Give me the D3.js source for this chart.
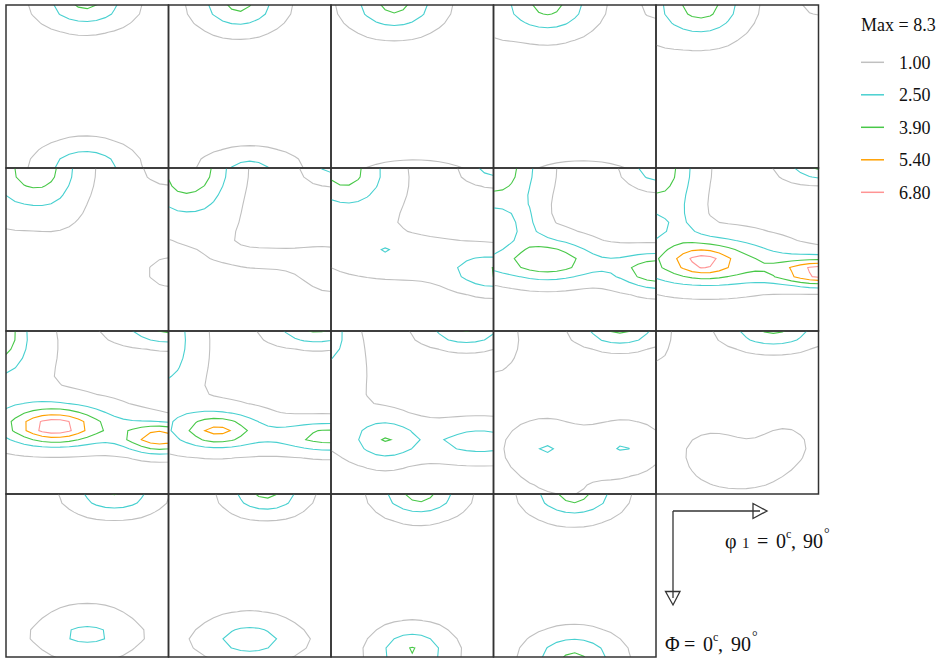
<!DOCTYPE html>
<html>
<head>
<meta charset="utf-8">
<script src="https://cdn.jsdelivr.net/npm/d3@7"></script>
<style>
  body { margin: 0; background: #fff; }
  svg { display: block; }
</style>
</head>
<body>
<div id="chart"></div>
<script>

// contour levels and colours (legend)
const levels = [1.00, 2.50, 3.90, 5.40, 6.80];
const levelColors = ["#c0c0c0", "#48d0d0", "#48c848", "#ffa000", "#ff9494"];
const maxDensity = 8.3;

// phi2 of each section, left to right, top to bottom
const phi2Sections = [0, 5, 10, 15, 20, 25, 30, 35, 40, 45, 50, 55, 60, 65, 70, 75, 80, 85, 90];

// sampling grid of the sections (degrees)
const gridPhi1 = d3.range(-5, 96, 5);
const gridPhi = d3.range(-5, 96, 5);
const background = 0.45;

// texture components read off each section:
// [phi1, Phi, height, spread along phi1, spread along Phi]
const peaks0  = [[44, 0, 3.7, 16, 8.4], [44, 90, 3.45, 16.5, 9]];
const peaks5  = [[39, 0, 3.8, 15, 9.5], [45, 90, 2.5, 17, 6.8]];
const peaks10 = [[35, 0, 3.85, 16.3, 10], [46, 90, 0.85, 29, 5]];
const peaks15 = [[30, 0, 3.9, 16.5, 11], [90, 0, 0.85, 8, 8], [49, 90, 0.8, 28, 5], [0, 10, 0.4, 10, 15]];
const peaks20 = [[25, 0, 4.1, 16, 12.5], [90, 0, 0.75, 11, 7], [0, 10, 0.4, 10, 15]];
const peaks25 = [[19, 0, 4.1, 15, 15], [0, 8, 1.0, 10, 18], [28, 25, 0.5, 12, 10], [90, 57.5, 0.75, 14, 10], [90, 0, 0.8, 16, 11]];
const peaks30 = [[14, 0, 4.2, 15, 16], [0, 12, 1.0, 10, 18], [25, 30, 0.7, 12, 10], [55, 50, 0.75, 30, 7], [90, 58, 1.0, 12, 9], [90, 0, 2.4, 10, 6]];
const peaks35 = [[6, 0, 3.4, 16, 13], [15, 15, 1.0, 20, 20], [45, 50, 1.2, 35, 9], [30, 45, 1.0, 6, 4], [90, 58, 3.3, 15, 7], [90, 0, 2.7, 11, 6]];
const peaks40 = [[0, 0, 4.6, 17, 17], [18, 30, 1.6, 7, 9], [35, 53, 2.0, 40, 7], [0, 53, 0.6, 8, 6], [29, 49, 2.9, 16, 9], [92, 57.5, 4.2, 15, 7], [92, 0, 3.3, 12, 7]];
const peaks45 = [[0, 0, 4.5, 15, 19], [15, 30, 1.0, 7, 9], [26, 51.5, 2.3, 9, 4.5], [26, 51, 4.2, 28, 10], [50, 55, 1.0, 40, 8], [93, 57.5, 6.8, 17, 5], [92, 0, 3.7, 14, 5]];
const peaks50 = [[-3, 0, 3.2, 9, 14], [0, 10, 1.5, 20, 22], [26.6, 53.5, 3.0, 13, 5], [27, 51, 3.8, 24, 9], [50, 54, 1.0, 40, 7], [86, 59.5, 5.6, 14, 5.5], [92, 0, 3.7, 20, 5.5]];
const peaks55 = [[-4, 0, 2.5, 13, 22], [0, 20, 0.9, 15, 25], [27, 55.5, 1.4, 9, 4], [27, 54, 3.6, 18, 8], [50, 57, 0.6, 40, 7], [90, 58.5, 3.8, 21, 6], [82, 0, 3.6, 17, 5.5]];
const peaks60 = [[-3, 0, 2.8, 8, 12], [0, 25, 1.0, 18, 25], [30, 60, 2.9, 12.3, 8.7], [84, 61, 2.4, 22, 7.5], [50, 60, 0.5, 40, 8], [75, 0, 3.5, 16, 6]];
const peaks65 = [[0, 5, 0.9, 14, 18], [29, 65, 2.1, 14, 10], [72, 64, 2.1, 14, 9], [45, 90, 0.5, 25, 10], [70, 0, 3.7, 15, 6]];
const peaks70 = [[0, 0, 0.85, 9, 18], [30, 66, 0.8, 14, 10], [72, 63, 0.85, 11, 9], [52, 70, 0.4, 14, 9], [48, 82, 0.55, 22, 8], [65, 0, 3.7, 17, 6.5]];
const peaks75 = [[60, 0, 3.5, 16, 7.5], [45, 77, 1.9, 18, 10.5], [45, 78, 0.6, 20, 4]];
const peaks80 = [[54, 0, 3.8, 14, 7.5], [45, 80, 2.4, 17, 9], [45, 81, 0.5, 25, 5]];
const peaks85 = [[49, 0, 4.0, 15, 8.5], [45, 87, 3.6, 14, 9]];
const peaks90 = [[44.5, 0, 4.0, 16, 9], [44.5, 90, 3.7, 16, 9]];

const sectionPeaks = [peaks0, peaks5, peaks10, peaks15, peaks20, peaks25, peaks30, peaks35, peaks40, peaks45,
                      peaks50, peaks55, peaks60, peaks65, peaks70, peaks75, peaks80, peaks85, peaks90];

const legendTitle = "Max = " + maxDensity;

// layout
const width = 942, height = 659;
const cols = 5;
const panelW = 162.5, panelH = 163;
const originX = 6, originY = 5;

const svg = d3.select("#chart").append("svg")
    .attr("width", width)
    .attr("height", height);

const x = d3.scaleLinear().domain([0, 90]).range([0, panelW]);
const y = d3.scaleLinear().domain([0, 90]).range([0, panelH]);

// grid index (cell centre at i + 0.5) -> degrees
const step = gridPhi1[1] - gridPhi1[0];
const gx = c => gridPhi1[0] + (c - 0.5) * step;
const gy = c => gridPhi[0] + (c - 0.5) * step;

const path = d3.geoPath(d3.geoTransform({
    point: function (px, py) { this.stream.point(x(gx(px)), y(gy(py))); }
}));

const contours = d3.contours()
    .size([gridPhi1.length, gridPhi.length])
    .thresholds(levels);

function density(peaks) {
    const values = [];
    gridPhi.forEach(P => {
        gridPhi1.forEach(p1 => {
            let v = background;
            peaks.forEach(([c1, c2, a, s1, s2]) => {
                const u = (p1 - c1) / s1, w = (P - c2) / s2;
                v += a * Math.exp(-0.5 * (u * u + w * w));
            });
            values.push(v);
        });
    });
    return values;
}

const defs = svg.append("defs");

phi2Sections.forEach((phi2, k) => {
    const col = k % cols, row = Math.floor(k / cols);
    const g = svg.append("g")
        .attr("transform", `translate(${originX + col * panelW},${originY + row * panelH})`);

    defs.append("clipPath").attr("id", "clip" + k)
        .append("rect").attr("width", panelW).attr("height", panelH);

    const lines = g.append("g").attr("clip-path", `url(#clip${k})`);
    lines.selectAll("path")
        .data(contours(density(sectionPeaks[k])))
        .join("path")
        .attr("d", path)
        .attr("fill", "none")
        .attr("stroke", (d, i) => levelColors[i])
        .attr("stroke-width", 1.1);

    g.append("rect")
        .attr("width", panelW)
        .attr("height", panelH)
        .attr("fill", "none")
        .attr("stroke", "#333")
        .attr("stroke-width", 1.5);
});

// legend
const legend = svg.append("g").attr("font-family", "'Liberation Serif', 'Times New Roman', serif");
legend.append("text")
    .attr("x", 861).attr("y", 31)
    .attr("font-size", 18)
    .attr("fill", "#111")
    .text(legendTitle);

const legendY = d3.scaleLinear().domain([0, 1]).range([62.3, 94.8]);
levels.forEach((lv, i) => {
    legend.append("line")
        .attr("x1", 861).attr("x2", 884)
        .attr("y1", legendY(i)).attr("y2", legendY(i))
        .attr("stroke", levelColors[i])
        .attr("stroke-width", 1.5);
    legend.append("text")
        .attr("x", 899).attr("y", legendY(i) + 6.5)
        .attr("font-size", 18)
        .attr("fill", "#111")
        .text(lv.toFixed(2));
});

// axis directions
const axes = svg.append("g").attr("stroke", "#333").attr("stroke-width", 1.3).attr("fill", "none");
const ax0 = 673, ay0 = 511;
axes.append("path").attr("d", `M${ax0},${ay0}H760`);
axes.append("path").attr("d", `M753,503.5L767,${ay0}L753,518.5Z`);
axes.append("path").attr("d", `M${ax0},${ay0}V598`);
axes.append("path").attr("d", `M665.5,591.5L680,591.5L${ax0},605Z`);

const lab = svg.append("g")
    .attr("font-family", "'Liberation Serif', 'Times New Roman', serif")
    .attr("font-size", 20)
    .attr("fill", "#111");

// label pieces: [text, x, size, raised]
const phi1Label = [["\u03c6", 725, 20, false], ["1", 742, 15, false], ["=", 757, 20, false], ["0", 776, 20, false],
                   ["c", 786, 12, true], [",", 791, 20, false], ["90", 803, 20, false], ["\u00b0", 824, 14, true]];
const phiLabel  = [["\u03a6", 665, 20, false], ["=", 684, 20, false], ["0", 703, 20, false],
                   ["c", 713, 12, true], [",", 718, 20, false], ["90", 731, 20, false], ["\u00b0", 752, 14, true]];

[[phi1Label, 548], [phiLabel, 651]].forEach(([parts, base]) => {
    lab.selectAll(null)
        .data(parts)
        .join("text")
        .attr("x", d => d[1])
        .attr("y", d => d[3] ? base - 10 : base)
        .attr("font-size", d => d[2])
        .text(d => d[0]);
});

</script>
</body>
</html>
